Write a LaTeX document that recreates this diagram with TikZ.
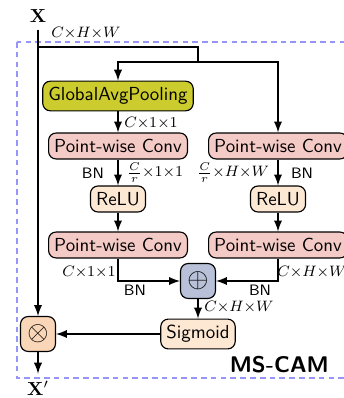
\documentclass[tikz,border=0pt]{standalone}
\usepackage{amsmath}
\usetikzlibrary{arrows}
\definecolor{gapcol}{RGB}{204,204,46}
\definecolor{convcol}{RGB}{244,202,198}
\definecolor{relucol}{RGB}{253,232,212}
\definecolor{addcol}{RGB}{184,193,216}
\definecolor{mulcol}{RGB}{250,214,184}
\definecolor{boxcol}{RGB}{150,150,250}
\tikzset{
	block/.style={draw, line width=0.6pt, rounded corners=4pt, font=\sffamily, inner xsep=3pt, inner ysep=3.3pt},
	opbox/.style={draw, line width=0.6pt, rounded corners=4pt, minimum size=18.5pt, inner sep=0pt},
	dim/.style={font=\footnotesize},
	bnlab/.style={font=\sffamily\footnotesize},
}
\begin{document}
\begin{tikzpicture}[x=0.53pt, y=-0.53pt, line width=1pt, >=latex]
	\useasboundingbox (0,0) rectangle (343,398);
	%module frame
	\draw[boxcol, line width=0.6pt, dash pattern=on 3pt off 2.2pt] (17,42) rectangle (370,378);
	\node[font=\sffamily\bfseries\large, anchor=east] (title) at (336,365) {MS-CAM};
	
	%input and output
	\node (x) at (38,16) {$\mathbf{X}$};
	\node (xout) at (38,388) {$\mathbf{X}'$};
	
	%blocks
	\node[block, fill=gapcol] (gap) at (118,96) {GlobalAvgPooling};
	\node[block, fill=convcol] (pwcL1) at (118,146) {Point-wise Conv};
	\node[block, fill=relucol] (reluL) at (118,199) {ReLU};
	\node[block, fill=convcol] (pwcL2) at (118,245) {Point-wise Conv};
	\node[block, fill=convcol] (pwcR1) at (278,146) {Point-wise Conv};
	\node[block, fill=relucol] (reluR) at (278,199) {ReLU};
	\node[block, fill=convcol] (pwcR2) at (278,245) {Point-wise Conv};
	\node[opbox, fill=addcol] (plus) at (198,281) {\Large$\oplus$};
	\node[block, fill=relucol] (sig) at (198,334) {Sigmoid};
	\node[opbox, fill=mulcol] (mult) at (38,334) {\Large$\otimes$};
	
	\coordinate (split) at (38,47);
	\coordinate (fork) at (198,62);
	
	%connectors
	\draw[->] (x.south) -- (mult.north);
	\draw (split) -| (fork);
	\draw[->] (fork) -| (gap.north);
	\draw[->] (fork) -| (pwcR1.north);
	\draw[->] (gap) -- (pwcL1);
	\draw[->] (pwcL1) -- (reluL);
	\draw[->] (reluL) -- (pwcL2);
	\draw[->] (pwcR1) -- (reluR);
	\draw[->] (reluR) -- (pwcR2);
	\draw[->] (pwcL2.south) |- (plus.west);
	\draw[->] (pwcR2.south) |- (plus.east);
	\draw[->] (plus) -- (sig);
	\draw[->] (sig) -- (mult);
	\draw[->] (mult) -- (xout.north);
	
	%labels
	\node[dim] at (86,33) {$C{\times}H{\times}W$};
	\node[dim] at (151,123) {$C{\times}1{\times}1$};
	\node[bnlab] at (93,173) {BN};
	\node[dim] at (155,173) {$\frac{C}{r}{\times}1{\times}1$};
	\node[dim] at (233,173) {$\frac{C}{r}{\times}H{\times}W$};
	\node[bnlab] at (302,173) {BN};
	\node[dim] at (89,272) {$C{\times}1{\times}1$};
	\node[bnlab] at (135,290) {BN};
	\node[dim] at (312,272) {$C{\times}H{\times}W$};
	\node[bnlab] at (260,290) {BN};
	\node[dim] at (239,307) {$C{\times}H{\times}W$};
\end{tikzpicture}
\end{document}
